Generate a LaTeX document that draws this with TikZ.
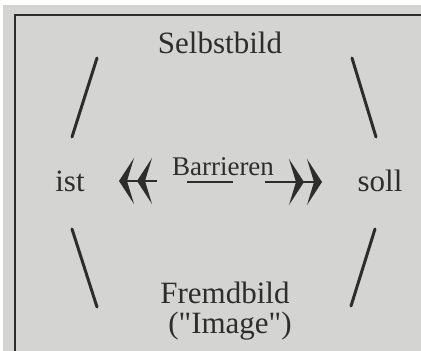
\documentclass[tikz,border=0pt]{standalone}
\usepackage{fontspec}
\setmainfont{Liberation Serif}
\usetikzlibrary{arrows.meta}
\definecolor{paper}{RGB}{212,212,210}
\definecolor{ink}{RGB}{45,45,45}
\begin{document}
\begin{tikzpicture}[x=1pt,y=-1pt,
  lbl/.style={anchor=base,inner sep=0pt,text=ink,font=\fontsize{31}{37}\selectfont},
  slash/.style={draw=ink,line width=3pt,line cap=round},
  frame/.style={draw=ink,line width=2pt},
  dblhead/.style={draw=ink,line width=2pt,
    -{Stealth[length=15pt,width=46pt,inset=7pt,sep=3pt] Stealth[length=15pt,width=46pt,inset=7pt]}}]
\useasboundingbox (0,0) rectangle (421,351);
\fill[white] (0,0) rectangle (421,351);
\fill[paper] (3,5) rectangle (421,351);
% frame
\coordinate (fbl) at (15,351);
\coordinate (ftl) at (15,15);
\coordinate (ftr) at (421,15);
\draw[frame] (fbl) -- (ftl) -- (ftr);
% labels
\node[lbl] (selbst) at (220,53) {Selbstbild};
\node[lbl] (ist) at (70,191) {ist};
\node[lbl] (soll) at (380,191) {soll};
\node[lbl,font=\fontsize{27}{32}\selectfont] (barr) at (223,175) {Barrieren};
\node[lbl] (fremd) at (225,303) {Fremdbild};
\node[lbl] (image) at (230,333) {(\textquotedbl Image\textquotedbl)};
% slashes
\coordinate (ula) at (97,58);  \coordinate (ulb) at (72,137);
\coordinate (ura) at (352,58); \coordinate (urb) at (376,137);
\coordinate (lla) at (72,229); \coordinate (llb) at (97,307);
\coordinate (lra) at (375,229);\coordinate (lrb) at (351,306);
\draw[slash] (ula) -- (ulb);
\draw[slash] (ura) -- (urb);
\draw[slash] (lla) -- (llb);
\draw[slash] (lra) -- (lrb);
% underline and arrows
\coordinate (ua) at (187,182); \coordinate (ub) at (233,182);
\draw[ink,line width=2pt] (ua) -- (ub);
\coordinate (la) at (157,181); \coordinate (lt) at (119,181);
\coordinate (ra) at (265,182); \coordinate (rt) at (322,182);
\draw[dblhead] (la) -- (lt);
\draw[dblhead] (ra) -- (rt);
\end{tikzpicture}
\end{document}
